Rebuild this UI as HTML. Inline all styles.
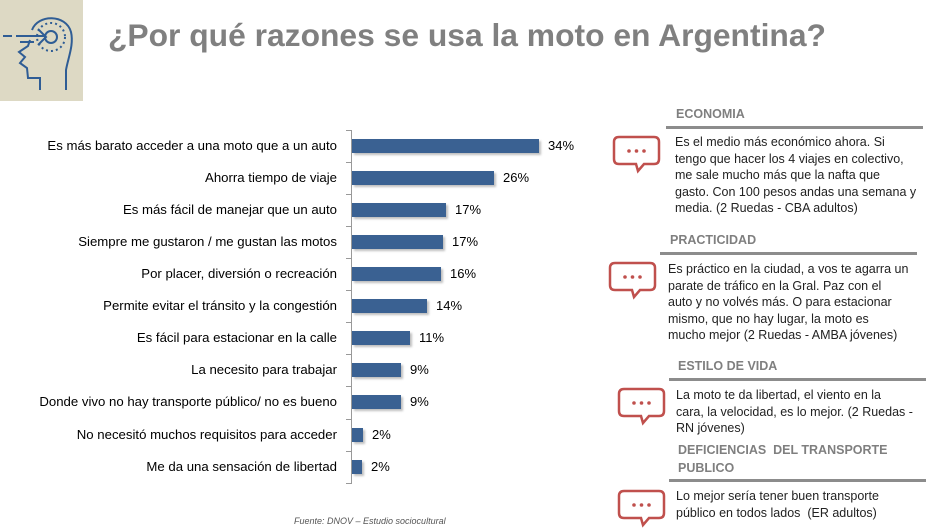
<!DOCTYPE html>
<html><head><meta charset="utf-8"><style>
body{margin:0;width:946px;height:532px;overflow:hidden;background:#fff;font-family:"Liberation Sans",sans-serif;position:relative}
.abs{position:absolute}
.lab{position:absolute;right:609px;font-size:13.2px;color:#000;white-space:nowrap;line-height:16px}
.bar{position:absolute;left:352px;height:14px;background:#3a6192;box-shadow:2px 2px 2px rgba(0,0,0,.25)}
.val{position:absolute;font-size:13px;line-height:16px}
.hd{position:absolute;font-size:12.5px;font-weight:bold;color:#7f7f7f;line-height:18px}
.ln{position:absolute;height:3px;background:#8c8c8c}
.q{position:absolute;font-size:12.5px;line-height:16.5px;color:#222}
.tk{position:absolute;left:346px;width:5px;height:1px;background:#999}
</style></head><body>
<div class="abs" style="left:0;top:0;width:83px;height:101px;background:#ddd9c4"></div>
<svg class="abs" style="left:0;top:0" width="83" height="101" viewBox="0 0 83 101">
<g fill="none" stroke="#2f5d95" stroke-width="2">
<path d="M40 90 V78 H28 L27 68 L20 63 L25 57 L19 52 L28 46 L30 40 M32 30 C38 14 66 14 71 32 C74 45 68 58 66 70 V90"/>
<path d="M3 36 H12 M16 36 H44 M38 29 L46 37 L38 45 M20 42 H34"/>
<circle cx="51" cy="37" r="6"/>
<circle cx="51" cy="37" r="14" stroke-dasharray="2 3"/>
</g></svg>
<div class="abs" style="left:108px;top:17px;font-size:31.8px;font-weight:bold;color:#808080;white-space:nowrap">¿Por qué razones se usa la moto en Argentina?</div>

<div class="abs" style="left:351px;top:130px;width:1px;height:354px;background:#999"></div>
<div class="tk" style="top:130px"></div><div class="tk" style="top:162px"></div><div class="tk" style="top:194px"></div><div class="tk" style="top:226px"></div><div class="tk" style="top:258px"></div><div class="tk" style="top:290px"></div><div class="tk" style="top:322px"></div><div class="tk" style="top:354px"></div><div class="tk" style="top:386px"></div><div class="tk" style="top:419px"></div><div class="tk" style="top:451px"></div><div class="tk" style="top:483px"></div>
<div class="lab" style="top:138px">Es más barato acceder a una moto que a un auto</div>
<div class="lab" style="top:170px">Ahorra tiempo de viaje</div>
<div class="lab" style="top:202px">Es más fácil de manejar que un auto</div>
<div class="lab" style="top:234px">Siempre me gustaron / me gustan las motos</div>
<div class="lab" style="top:266px">Por placer, diversión o recreación</div>
<div class="lab" style="top:298px">Permite evitar el tránsito y la congestión</div>
<div class="lab" style="top:330px">Es fácil para estacionar en la calle</div>
<div class="lab" style="top:362px">La necesito para trabajar</div>
<div class="lab" style="top:394px">Donde vivo no hay transporte público/ no es bueno</div>
<div class="lab" style="top:427px">No necesitó muchos requisitos para acceder</div>
<div class="lab" style="top:459px">Me da una sensación de libertad</div>

<div class="bar" style="top:139px;width:187px"></div><div class="val" style="left:548px;top:138px">34%</div>
<div class="bar" style="top:171px;width:142px"></div><div class="val" style="left:503px;top:170px">26%</div>
<div class="bar" style="top:203px;width:94px"></div><div class="val" style="left:455px;top:202px">17%</div>
<div class="bar" style="top:235px;width:91px"></div><div class="val" style="left:452px;top:234px">17%</div>
<div class="bar" style="top:267px;width:89px"></div><div class="val" style="left:450px;top:266px">16%</div>
<div class="bar" style="top:299px;width:75px"></div><div class="val" style="left:436px;top:298px">14%</div>
<div class="bar" style="top:331px;width:58px"></div><div class="val" style="left:419px;top:330px">11%</div>
<div class="bar" style="top:363px;width:49px"></div><div class="val" style="left:410px;top:362px">9%</div>
<div class="bar" style="top:395px;width:49px"></div><div class="val" style="left:410px;top:394px">9%</div>
<div class="bar" style="top:428px;width:11px"></div><div class="val" style="left:372px;top:427px">2%</div>
<div class="bar" style="top:460px;width:10px"></div><div class="val" style="left:371px;top:459px">2%</div>

<div class="abs" style="left:294px;top:516px;font-size:9px;font-style:italic;color:#555">Fuente: DNOV – Estudio sociocultural</div>

<svg class="abs" style="left:0;top:0" width="946" height="532">
<defs><g id="b" fill="none" stroke="#c0504d" stroke-width="2.5">
<path d="M5 0 H40 Q45 0 45 5 V22 Q45 27 40 27 H30 L24 34 L22 27 H5 Q0 27 0 22 V5 Q0 0 5 0Z"/>
<g fill="#c0504d" stroke="none"><circle cx="15" cy="14" r="1.8"/><circle cx="22.5" cy="14" r="1.8"/><circle cx="30" cy="14" r="1.8"/></g></g></defs>
<use href="#b" x="614" y="137"/>
<use href="#b" x="610" y="263"/>
<use href="#b" x="619" y="389"/>
<use href="#b" x="619" y="491"/>
</svg>

<div class="hd" style="left:676px;top:105px">ECONOMIA</div>
<div class="ln" style="left:666px;top:126px;width:257px"></div>
<div class="q" style="left:675px;top:134px">Es el medio más económico ahora. Si<br>tengo que hacer los 4 viajes en colectivo,<br>me sale mucho más que la nafta que<br>gasto. Con 100 pesos andas una semana y<br>media. (2 Ruedas - CBA adultos)</div>
<div class="hd" style="left:670px;top:231px">PRACTICIDAD</div>
<div class="ln" style="left:660px;top:252px;width:257px"></div>
<div class="q" style="left:668px;top:261px">Es práctico en la ciudad, a vos te agarra un<br>parate de tráfico en la Gral. Paz con el<br>auto y no volvés más. O para estacionar<br>mismo, que no hay lugar, la moto es<br>mucho mejor (2 Ruedas - AMBA jóvenes)</div>
<div class="hd" style="left:678px;top:357px">ESTILO DE VIDA</div>
<div class="ln" style="left:669px;top:378px;width:257px"></div>
<div class="q" style="left:676px;top:387px">La moto te da libertad, el viento en la<br>cara, la velocidad, es lo mejor. (2 Ruedas -<br>RN jóvenes)</div>
<div class="hd" style="left:678px;top:441px">DEFICIENCIAS&nbsp; DEL TRANSPORTE<br>PUBLICO</div>
<div class="ln" style="left:669px;top:479px;width:257px"></div>
<div class="q" style="left:676px;top:488px">Lo mejor sería tener buen transporte<br>público en todos lados&nbsp; (ER adultos)</div>
</body></html>
